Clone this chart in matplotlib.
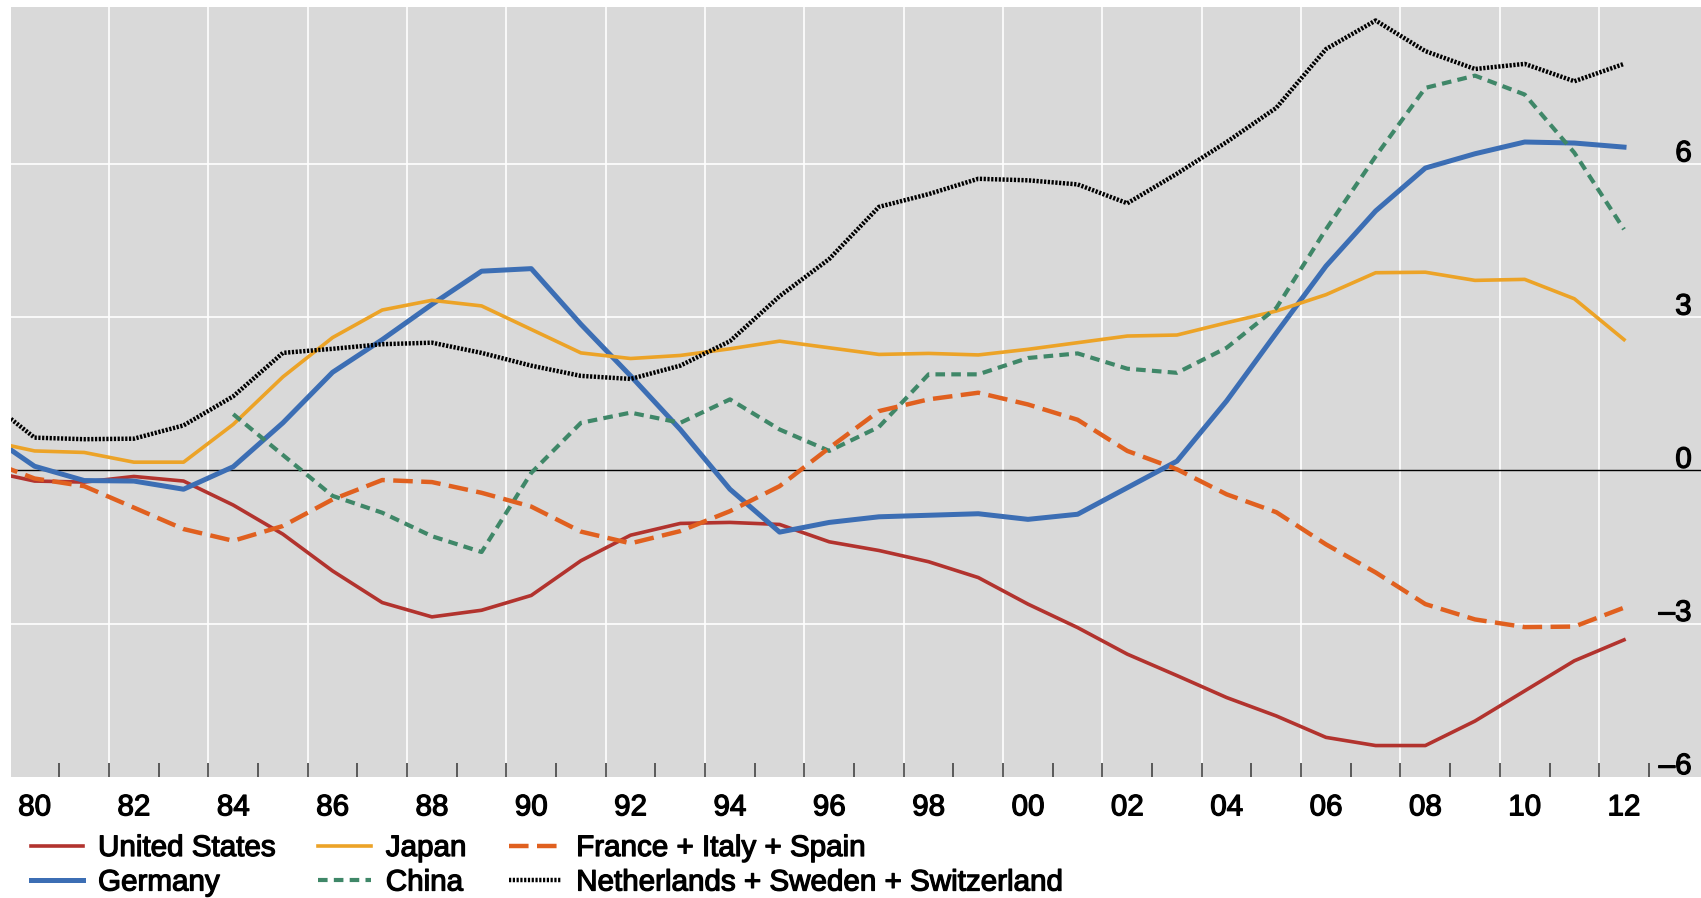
import matplotlib.pyplot as plt
import matplotlib.patheffects as pe
import numpy as np

plt.rcParams['font.family'] = ['Liberation Sans', 'DejaVu Sans']

# Data; first point (1979) is clipped by the axis edge
years = list(range(1979, 2013))
united_states = [-0.00, -0.21, -0.23, -0.12, -0.21, -0.68, -1.25, -1.97, -2.59, -2.87, -2.74, -2.45,
                 -1.77, -1.27, -1.04, -1.02, -1.06, -1.40, -1.57, -1.79, -2.10, -2.62, -3.08, -3.60,
                 -4.02, -4.45, -4.81, -5.23, -5.39, -5.39, -4.91, -4.32, -3.73, -3.32]
germany = [0.75, 0.08, -0.20, -0.21, -0.37, 0.07, 0.93, 1.92, 2.56, 3.25, 3.90, 3.95,
           2.86, 1.85, 0.80, -0.37, -1.21, -1.02, -0.91, -0.88, -0.85, -0.96, -0.86, -0.34,
           0.18, 1.36, 2.69, 4.00, 5.08, 5.92, 6.20, 6.43, 6.41, 6.33]
japan = [0.59, 0.38, 0.35, 0.16, 0.16, 0.90, 1.83, 2.60, 3.14, 3.33, 3.22, 2.76,
         2.30, 2.19, 2.25, 2.38, 2.53, 2.40, 2.27, 2.29, 2.26, 2.37, 2.50, 2.63,
         2.65, 2.89, 3.12, 3.44, 3.87, 3.88, 3.72, 3.74, 3.36, 2.56]
france_italy_spain = [0.21, -0.16, -0.31, -0.73, -1.15, -1.38, -1.09, -0.57, -0.19, -0.23, -0.44, -0.71,
                      -1.20, -1.43, -1.19, -0.80, -0.31, 0.44, 1.16, 1.39, 1.52, 1.29, 0.99, 0.38,
                      0.02, -0.47, -0.82, -1.45, -2.00, -2.62, -2.92, -3.07, -3.06, -2.69]
nl_se_ch = [1.41, 0.64, 0.61, 0.62, 0.88, 1.45, 2.30, 2.38, 2.47, 2.50, 2.30, 2.05,
            1.85, 1.79, 2.05, 2.53, 3.41, 4.14, 5.16, 5.41, 5.71, 5.68, 5.60, 5.23,
            5.81, 6.43, 7.10, 8.25, 8.81, 8.21, 7.86, 7.96, 7.62, 7.96]
china_years = list(range(1984, 2013))
china = [1.10, 0.30, -0.50, -0.83, -1.29, -1.60, -0.05, 0.93, 1.13, 0.93, 1.39, 0.80,
         0.38, 0.85, 1.88, 1.88, 2.20, 2.29, 1.99, 1.91, 2.40, 3.18, 4.72, 6.15,
         7.49, 7.73, 7.36, 6.22, 4.72]

xtick_years = list(range(1980, 2013, 2))
xtick_labels = ['%02d' % (y % 100) for y in xtick_years]
ytick_values = [-6, -3, 0, 3, 6]
ytick_labels = ['–6', '–3', '0', '3', '6']

heavy = [pe.withStroke(linewidth=0.9, foreground='black')]

fig = plt.figure(figsize=(17.01, 8.98), dpi=100)
ax = fig.add_axes([10.7 / 1701, 1 - 776.7 / 898, 1 - 10.7 / 1701, (776.7 - 6.7) / 898])
ax.set_facecolor('#d9d9d9')
for s in ax.spines.values():
    s.set_visible(False)

# grid
for x in np.arange(1981.5, 2012, 2):
    ax.axvline(x, color='white', lw=1.2, zorder=1)
for y in [3, 6, -3]:
    ax.axhline(y, color='white', lw=1.2, zorder=1)
ax.axhline(0, color='black', lw=1.0, zorder=2)

ax.plot(years, united_states, color='#b2332e', lw=2.6, label='United States', zorder=3)
ax.plot(years, germany, color='#3c6eb4', lw=3.6, label='Germany', zorder=3)
ax.plot(years, japan, color='#eca327', lw=2.6, label='Japan', zorder=3)
ax.plot(china_years, china, color='#3f8768', lw=3.0, linestyle=(0, (2.3, 1.5)),
        label='China', zorder=3)
ax.plot(years, france_italy_spain, color='#e0601f', lw=3.2, linestyle=(0, (4.4, 1.9)),
        label='France + Italy + Spain', zorder=3)
ax.plot(years, nl_se_ch, color='black', lw=3.2, linestyle=(0, (0.5, 0.35)),
        label='Netherlands + Sweden + Switzerland', zorder=3)

ax.set_xlim(1979.52, 2013.55)
ax.set_ylim(-6, 9.08)

ax.set_xticks(xtick_years)
ax.set_xticklabels(xtick_labels, fontsize=21.3)
for t in ax.get_xticklabels():
    t.set_path_effects(heavy)
ax.set_xticks(np.arange(1980.5, 2013, 1), minor=True)
ax.tick_params(axis='x', which='major', length=0, pad=12)
ax.tick_params(axis='x', which='minor', direction='in', length=10, width=1.2, color='#444444')
ax.set_yticks([])

for v, lab in zip(ytick_values, ytick_labels):
    ax.text(0.9945, v + 0.05, lab, transform=ax.get_yaxis_transform(), ha='right', va='baseline',
            fontsize=21.3, path_effects=heavy)

handles, labels = ax.get_legend_handles_labels()
leg = fig.legend(handles, labels, ncol=3,
                 loc='upper left', bbox_to_anchor=(30.6 / 1701, 1 - 834 / 898), frameon=False,
                 fontsize=21.3, handlelength=1.78, handletextpad=0.5, columnspacing=1.43,
                 labelspacing=0.22, borderpad=0, borderaxespad=0)
for t in leg.get_texts():
    t.set_path_effects(heavy)

fig.savefig('out.png', dpi=100)
